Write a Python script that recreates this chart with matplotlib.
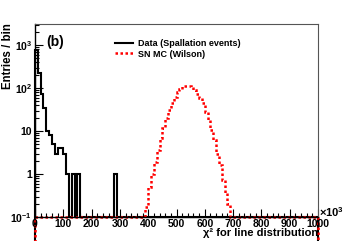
import numpy as np
import matplotlib
matplotlib.use("Agg")
import matplotlib.pyplot as plt
from matplotlib.ticker import FixedLocator, MultipleLocator, FixedFormatter

plt.rcParams["font.family"] = ["Liberation Sans", "DejaVu Sans"]
plt.rcParams["font.weight"] = "bold"
plt.rcParams["mathtext.fontset"] = "custom"
plt.rcParams["mathtext.rm"] = "Liberation Sans:bold"
plt.rcParams["mathtext.bf"] = "Liberation Sans:bold"
plt.rcParams["mathtext.it"] = "Liberation Sans:bold:italic"

# histogram binning (units of 10^3)
bin_width = 10
x_max = 1000

# data (spallation events), bins starting at 0
data_counts = [790, 220, 72, 34, 10, 8, 5, 3, 4, 4,
               3, 1, 0, 1, 0, 1, 0, 0, 0, 0,
               0, 0, 0, 0, 0, 0, 0, 0, 1, 0]

# SN MC (Wilson), bins starting at 390
mc_start = 390
mc_counts = [0.17, 0.5, 1.0, 1.9, 3.6, 6.8, 11.5, 20, 31, 44,
             63, 82, 98, 113, 115, 115, 105, 93, 75, 58,
             44, 28, 18, 10.5, 6.2, 3.0, 1.6, 0.72, 0.36, 0.2]

ymin, ymax = 0.1, 3200

edges = np.arange(0, x_max + bin_width, bin_width)
nbins = len(edges) - 1
data = np.zeros(nbins)
data[:len(data_counts)] = data_counts
mc = np.zeros(nbins)
i0 = mc_start // bin_width
mc[i0:i0 + len(mc_counts)] = mc_counts
data[data <= 0] = ymin
mc[mc <= 0] = ymin

fig = plt.figure(figsize=(3.54, 2.41), dpi=100)
ax = fig.add_axes([35 / 354, 24 / 241, 283 / 354, 193.5 / 241])

ax.stairs(data, edges, color="black", lw=1.5, clip_on=False,
          label="Data (Spallation events)")
ax.stairs(mc, edges, color="#ff0000", lw=1.8, ls=(0, (1, 1)), clip_on=False,
          label="SN MC (Wilson)")

ax.set_yscale("log")
ax.set_xlim(0, x_max)
ax.set_ylim(ymin, ymax)

ax.xaxis.set_major_locator(MultipleLocator(100))
ax.xaxis.set_minor_locator(MultipleLocator(20))
ax.yaxis.set_major_locator(FixedLocator([0.1, 1, 10, 100, 1000]))
ax.yaxis.set_major_formatter(FixedFormatter(
    [r"$10^{-1}$", "1", "10", r"$10^{2}$", r"$10^{3}$"]))
ax.yaxis.set_minor_locator(FixedLocator(
    [m * 10.0 ** e for e in range(-1, 4) for m in range(2, 10)]))
ax.yaxis.set_minor_formatter(FixedFormatter([]))

ax.tick_params(which="both", direction="in", top=False, right=False,
               labelsize=7.5, pad=2, color="black")
ax.tick_params(axis="x", pad=1.5)
ax.tick_params(which="major", length=6, width=0.8)
ax.tick_params(which="minor", length=3, width=0.8)
for lab in ax.get_xticklabels() + ax.get_yticklabels():
    lab.set_fontweight("bold")

for side in ["left", "bottom"]:
    ax.spines[side].set_color("black")
    ax.spines[side].set_linewidth(1.0)
for side in ["top", "right"]:
    ax.spines[side].set_color("#555555")
    ax.spines[side].set_linewidth(0.8)

ax.set_xlabel("\u03c7\u00b2 for line distribution", fontsize=8,
              fontweight="bold", loc="right")
ax.xaxis.set_label_coords(1.0, -0.057)
ax.set_ylabel("Entries / bin", fontsize=8.3, fontweight="bold", loc="top")
ax.yaxis.set_label_coords(-0.075, 1.0)
ax.text(1.005, 0.0, r"$\times10^{3}$", transform=ax.transAxes,
        fontsize=8, ha="left", va="baseline")
ax.text(0.04, 0.905, "(b)", transform=ax.transAxes, fontsize=10,
        fontweight="bold", ha="left", va="center")

ax.legend(loc="upper left", bbox_to_anchor=(0.27, 0.94), frameon=False,
          handlelength=2.0, handletextpad=0.5, labelspacing=0.2,
          borderaxespad=0, prop={"weight": "bold", "size": 6.5})

fig.savefig("out.png", dpi=100)
